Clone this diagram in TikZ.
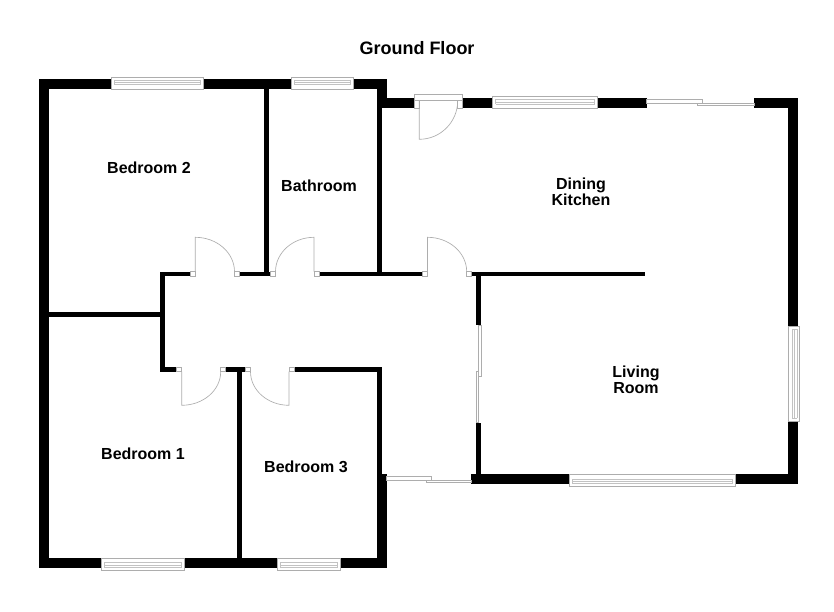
\documentclass[tikz,border=0pt]{standalone}
\usepackage{fontspec}
\setmainfont{Liberation Sans}
\definecolor{fitgray}{gray}{0.68}
\definecolor{fitlight}{gray}{0.76}
\tikzset{
  wallfill/.style={fill=black,draw=none},
  fitting/.style={draw=fitgray,line width=0.65pt,fill=white},
  fitline/.style={draw=fitlight,line width=0.45pt},
  swing/.style={draw=fitgray,line width=0.65pt},
  roomlabel/.style={font=\bfseries\fontsize{16}{16}\selectfont,align=center,text=black,inner sep=0pt},
  titlelabel/.style={font=\bfseries\fontsize{18}{20}\selectfont,text=black,inner sep=0pt},
}
% horizontal window: x1 x2 y1 y2 inner-y1 inner-y2
\newcommand{\hwin}[6]{%
  \draw[fitting] (#1,#3) rectangle (#2,#4);
  \draw[fitline] ({#1+3},#5) -- ({#2-3},#5);
  \draw[fitline] ({#1+3},#6) -- ({#2-3},#6);
  \draw[fitline] ({#1+3},{(#5+#6)/2}) -- ({#2-3},{(#5+#6)/2});
  \draw[fitline] ({#1+3},#5) -- ({#1+3},#6);
  \draw[fitline] ({#2-3},#5) -- ({#2-3},#6);}
% vertical window: x1 x2 y1 y2 inner-x1 inner-x2
\newcommand{\vwin}[6]{%
  \draw[fitting] (#1,#3) rectangle (#2,#4);
  \draw[fitline] (#5,{#3+3}) -- (#5,{#4-3});
  \draw[fitline] (#6,{#3+3}) -- (#6,{#4-3});
  \draw[fitline] ({(#5+#6)/2},{#3+3}) -- ({(#5+#6)/2},{#4-3});
  \draw[fitline] (#5,{#3+3}) -- (#6,{#3+3});
  \draw[fitline] (#5,{#4-3}) -- (#6,{#4-3});}
% door leaf and swing: hinge-x hinge-y tip-y arc-end-x
\newcommand{\swingdoor}[4]{%
  \draw[swing] (#1,#2) -- (#1,#3) .. controls ({#1+0.552*(#4-#1)},#3) and (#4,{#2+0.552*(#3-#2)}) .. (#4,#2);}
\newcommand{\wall}[4]{\fill[black] (#1,#2) rectangle (#3,#4);}
\newcommand{\jamb}[4]{\draw[fitting] (#1,#2) rectangle (#3,#4);}
\begin{document}
\begin{tikzpicture}[x=1pt,y=-1pt]
\useasboundingbox (0,0) rectangle (834,612);
\fill[white] (0,0) rectangle (834,612);
% outer walls, left block
\wall{38.7}{79}{111.3}{89}
\wall{203}{79}{291.3}{89}
\wall{353.7}{79}{386.7}{89}
\wall{38.7}{79}{49}{568.3}
\wall{38.7}{557.7}{101}{568.3}
\wall{184.7}{557.7}{277}{568.3}
\wall{340.7}{557.7}{386.7}{568.3}
\wall{376.7}{474.3}{386.7}{568.3}
\wall{376.7}{367}{381.7}{474.3}
% partitions
\wall{264}{89}{268.5}{276}
\wall{377}{89}{381.7}{276}
\wall{377}{79}{386.7}{98}
\wall{49}{312}{160}{317}
\wall{160}{271.7}{164.5}{371.7}
\wall{160}{271.7}{190.7}{276}
\wall{239.5}{271.7}{270}{276}
\wall{319}{271.7}{422.7}{276}
\wall{471}{271.7}{645}{276}
\wall{476}{271.7}{481}{325}
\wall{476}{422.7}{481}{474}
\wall{160}{367}{176.7}{371.7}
\wall{225.5}{367}{245.7}{371.7}
\wall{294}{367}{381.7}{371.7}
\wall{237.3}{367}{242.3}{557.7}
% outer walls, right block
\wall{377}{98}{414.3}{108.3}
\wall{462.7}{98}{492.7}{108.3}
\wall{597.7}{98}{646.7}{108.3}
\wall{754}{98}{798.3}{108.3}
\wall{788}{98}{798.3}{326}
\wall{788}{421}{798.3}{484.3}
\wall{471}{474}{569}{484.3}
\wall{735.7}{474}{798.3}{484.3}
% windows
\hwin{111.3}{203}{77.3}{89}{80}{84.7}
\hwin{291.3}{353.7}{77.3}{89}{80}{84.7}
\hwin{492.7}{597.7}{96.7}{108.3}{99.5}{104}
\hwin{569}{735.7}{474}{486}{479}{483.5}
\hwin{101}{184.7}{558}{570}{562.7}{567.3}
\hwin{277}{340.7}{558}{570}{562.7}{567.3}
\vwin{788}{799.3}{326}{421}{792.3}{797}
% sliding doors
\draw[fitting] (646.7,99.7) rectangle (702.7,103.3);
\draw[fitting] (697.3,103.3) rectangle (754,105.7);
\draw[fitting] (386.7,476.7) rectangle (431.7,480);
\draw[fitting] (426,480) rectangle (471,482);
\draw[fitting] (478.7,325) rectangle (481,376.7);
\draw[fitting] (476,371.7) rectangle (478.7,422.7);
% front door
\draw[fitting] (414.3,94) rectangle (462.7,100.7);
\jamb{414.3}{100.7}{419.3}{108}
\jamb{457.7}{100.7}{462.7}{108}
\swingdoor{419.3}{100.7}{139.3}{457.7}
% internal doors
\jamb{190.7}{271.7}{195.3}{276}
\jamb{234.5}{271.7}{239.5}{276}
\swingdoor{195.3}{271.7}{237.3}{234.5}
\jamb{270}{271.7}{275.5}{276}
\jamb{314}{271.7}{319}{276}
\swingdoor{314}{271.7}{237.3}{275.5}
\jamb{422.7}{271.7}{427.5}{276}
\jamb{466.7}{271.7}{471}{276}
\swingdoor{427.5}{271.7}{237.3}{466.7}
\jamb{176.7}{367}{181.7}{371.7}
\jamb{220.7}{367}{225.5}{371.7}
\swingdoor{181.7}{371.7}{405.3}{220.7}
\jamb{245.7}{367}{250.5}{371.7}
\jamb{289}{367}{294}{371.7}
\swingdoor{289}{371.7}{405.3}{250.5}
% labels
\node[titlelabel] (title) at (417,48) {Ground Floor};
\node[roomlabel] (bed2) at (149,168) {Bedroom 2};
\node[roomlabel] (bath) at (319,186) {Bathroom};
\node[roomlabel] (dining) at (581,192) {Dining\\Kitchen};
\node[roomlabel] (living) at (636,379.5) {Living\\Room};
\node[roomlabel] (bed1) at (143,454) {Bedroom 1};
\node[roomlabel] (bed3) at (306,467) {Bedroom 3};
\end{tikzpicture}
\end{document}
